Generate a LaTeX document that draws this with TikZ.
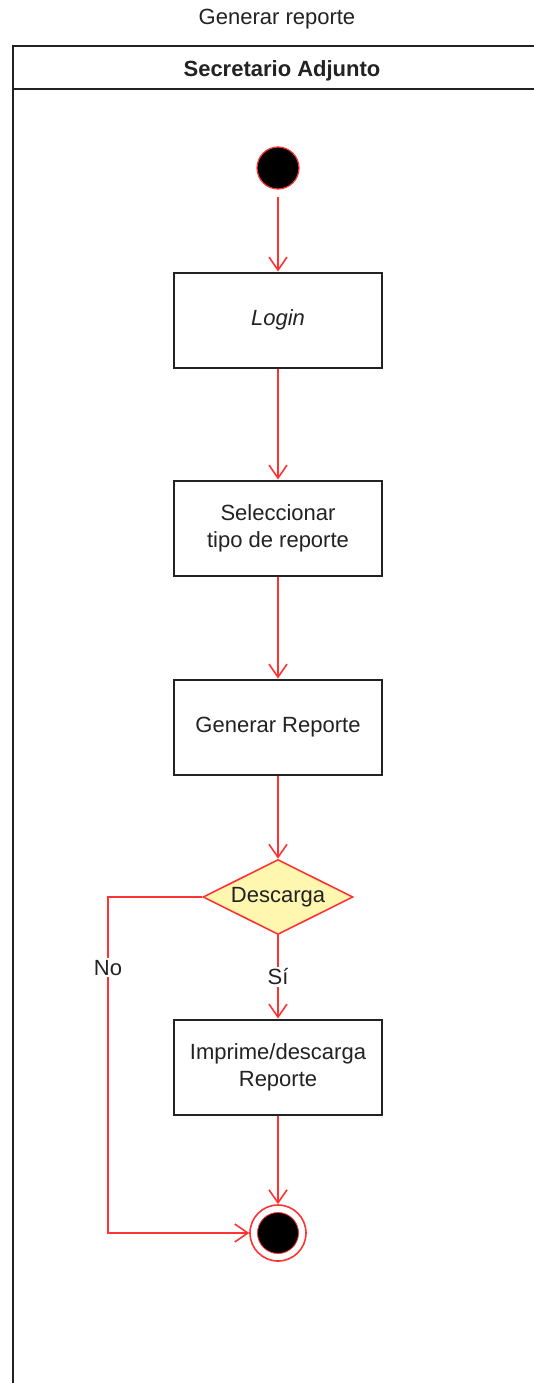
\documentclass[tikz,border=0pt]{standalone}
\usepackage{fontspec}
\setmainfont{Liberation Sans}
\usetikzlibrary{arrows.meta,shapes.geometric}
\definecolor{flow}{HTML}{FF3333}
\definecolor{ink}{HTML}{222222}
\definecolor{decfill}{HTML}{FFF6B0}
\tikzset{
  lbl/.style={font=\fontsize{22}{27}\selectfont, text=ink},
  action/.style={draw=ink, line width=2pt, fill=white, minimum width=208pt,
    minimum height=95pt, align=center, lbl},
  flowline/.style={draw=flow, line width=1.6pt,
    -{Straight Barb[length=13pt,width=18pt,line width=1.6pt]}},
}
\begin{document}
\begin{tikzpicture}[x=1pt, y=-1pt]
  \useasboundingbox (0,0) rectangle (533,1383);
  \fill[white] (0,0) rectangle (533,1383);

  % title and swimlane
  \node[lbl] (title) at (277,19) {Generar reporte};
  \draw[ink, line width=2pt] (13,1400) -- (13,46) -- (560,46);
  \draw[ink, line width=2pt] (13,89) -- (560,89);
  \node[lbl, font=\fontsize{22}{27}\selectfont\bfseries] (lane) at (282,71) {Secretario Adjunto};

  % activity nodes
  \node[circle, draw=flow, line width=1.2pt, fill=black, minimum size=42pt, inner sep=0pt] (start) at (278,168) {};
  \node[action] (login) at (278,320) {\itshape Login};
  \node[action] (sel) at (278,528) {Seleccionar\\tipo de reporte};
  \node[action] (gen) at (278,727) {Generar Reporte};
  \node[diamond, aspect=2, draw=flow, line width=1.6pt, fill=decfill, minimum width=150pt,
    minimum height=75pt, inner sep=0pt, lbl] (dec) at (278,897) {Descarga};
  \node[action] (imp) at (278,1067) {Imprime/descarga\\Reporte};
  \node[circle, draw=flow, line width=1.6pt, fill=white, minimum size=56pt, inner sep=0pt] (fin) at (278,1233) {};
  \node[circle, fill=black, draw=flow, line width=0.8pt, minimum size=41pt, inner sep=0pt] (finDot) at (278,1233) {};
  \coordinate (noCorner) at (108,897);

  % transitions
  \draw[flowline, shorten <=7pt] (start) -- (login);
  \draw[flowline] (login) -- (sel);
  \draw[flowline] (sel) -- (gen);
  \draw[flowline] (gen) -- (dec);
  \draw[flowline] (dec) -- node[pos=0.5, fill=white, inner sep=2pt, lbl] {Sí} (imp);
  \draw[flowline] (imp) -- (fin);
  \draw[flowline] (dec.west) -- (noCorner) |- node[pos=0.105, fill=white, inner sep=2pt, lbl] {No} (fin);
\end{tikzpicture}
\end{document}
